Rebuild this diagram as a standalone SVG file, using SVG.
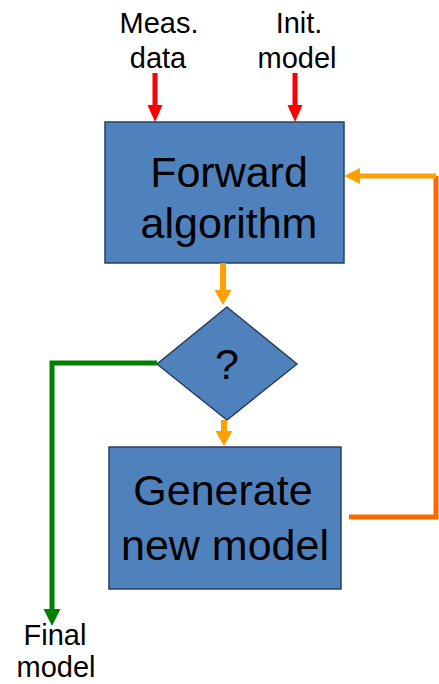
<svg xmlns="http://www.w3.org/2000/svg" width="439" height="684" viewBox="0 0 439 684">
<defs>
<style>
.lbl{font-family:"Liberation Sans",Arial,sans-serif;fill:#000;text-anchor:middle}
.box{fill:#4F81BD;stroke:#2B3F5C;stroke-width:1.5}
</style>
</defs>
<rect width="439" height="684" fill="#fff"/>
<g id="label-meas">
<text class="lbl" x="159" y="33" font-size="29">Meas.</text>
<text class="lbl" x="158" y="68" font-size="29">data</text>
</g>
<g id="label-init">
<text class="lbl" x="299" y="33" font-size="29">Init.</text>
<text class="lbl" x="297" y="68" font-size="29">model</text>
</g>
<g id="forward">
<rect class="box" x="105" y="122" width="239" height="141"/>
<text class="lbl" x="229" y="187" font-size="43">Forward</text>
<text class="lbl" x="229" y="238" font-size="43">algorithm</text>
</g>
<g id="decision">
<polygon class="box" points="227,307 297,364 227,420 157,364"/>
<text class="lbl" x="227" y="379" font-size="43">?</text>
</g>
<g id="generate">
<rect class="box" x="109" y="447" width="232" height="142"/>
<text class="lbl" x="223" y="505" font-size="43">Generate</text>
<text class="lbl" x="225" y="560" font-size="43">new model</text>
</g>
<g id="label-final">
<text class="lbl" x="55" y="645" font-size="29">Final</text>
<text class="lbl" x="56" y="677" font-size="29">model</text>
</g>
<g id="connectors">
<line x1="155" y1="73" x2="155" y2="106" stroke="#FF0000" stroke-width="5"/>
<polygon points="147.5,105 162.5,105 155,122" fill="#FF0000"/>
<line x1="295" y1="73" x2="295" y2="106" stroke="#FF0000" stroke-width="5"/>
<polygon points="287.5,105 302.5,105 295,122" fill="#FF0000"/>
<line x1="223" y1="263" x2="223" y2="291" stroke="#FFA000" stroke-width="6"/>
<polygon points="214.5,290 231.5,290 223,305" fill="#FFA000"/>
<line x1="224" y1="420" x2="224" y2="432" stroke="#FFA000" stroke-width="6"/>
<polygon points="215.5,431 232.5,431 224,446" fill="#FFA000"/>
<polyline points="349,517 436,517 436,176" fill="none" stroke="#FF6A00" stroke-width="5"/>
<line x1="359" y1="176" x2="436" y2="176" stroke="#FFA000" stroke-width="5"/>
<polygon points="344,176 360,168 360,184" fill="#FFA000"/>
<polyline points="157,363 52,363 52,610" fill="none" stroke="#008000" stroke-width="5"/>
<polygon points="43.5,609 60.5,609 52,626" fill="#008000"/>
</g>
</svg>
